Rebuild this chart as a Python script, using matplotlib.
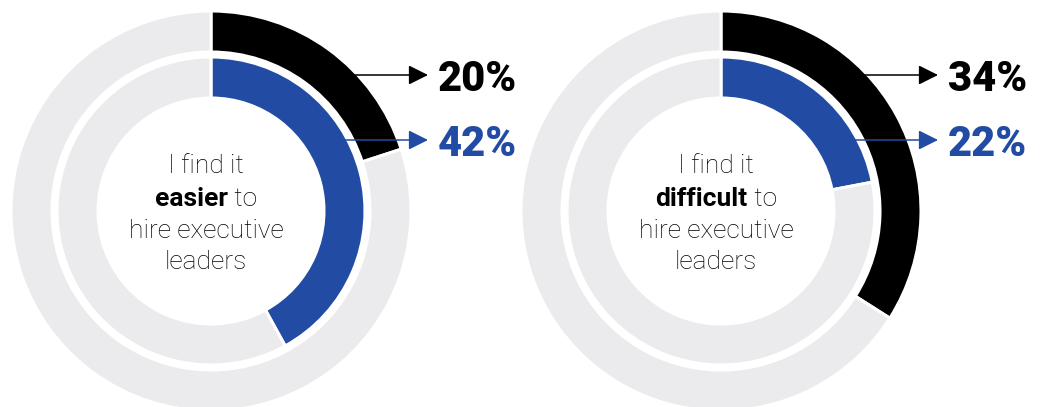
import matplotlib
matplotlib.use("Agg")
import matplotlib.pyplot as plt
import numpy as np

# --- данные ---
words = ["easier", "difficult"]       # выделенное слово в подписи
outer_vals = [20, 34]                 # внешнее кольцо (чёрное), %
inner_vals = [42, 22]                 # внутреннее кольцо (синее), %

BLACK = "#000000"
BLUE = "#224ba3"
GREY = "#ebebed"

plt.rcParams["font.family"] = ["Roboto", "DejaVu Sans"]

fig = plt.figure(figsize=(10.5, 4.07), dpi=100)
ax = fig.add_axes([0, 0, 1, 1])

centers = [(211, 196), (721, 196)]    # центры колец в пикселях
r_out, r_in, w = 200, 154, 41
arrow_y = [332, 267]                  # высоты стрелок (чёрная, синяя)

for (cx, cy), word, ov, iv in zip(centers, words, outer_vals, inner_vals):
    # кольца: значение + серый остаток
    ax.pie([ov, 100 - ov], colors=[BLACK, GREY], radius=r_out, center=(cx, cy),
           startangle=90, counterclock=False,
           wedgeprops=dict(width=w, edgecolor="white", linewidth=2.2))
    ax.pie([iv, 100 - iv], colors=[BLUE, GREY], radius=r_in, center=(cx, cy),
           startangle=90, counterclock=False,
           wedgeprops=dict(width=w, edgecolor="white", linewidth=2.2))

    # стрелки и проценты
    for val, col, y, r0 in [(ov, BLACK, arrow_y[0], 198), (iv, BLUE, arrow_y[1], 149)]:
        x0 = cx + np.sqrt(r0 ** 2 - (y - cy) ** 2)
        x1 = cx + 217
        ax.annotate("", xy=(x1, y), xytext=(x0, y),
                    arrowprops=dict(arrowstyle="-|>,head_length=0.4,head_width=0.2",
                                    color=col, lw=1.1, mutation_scale=30,
                                    shrinkA=0, shrinkB=0))
        ax.text(x1 + 10, y, f"{val}%", color=col, fontsize=30, fontweight=900,
                ha="left", va="center_baseline")

    # подпись в центре
    tx = cx - 5
    fs = 19
    ax.text(tx, 407 - 173, "I find it", fontsize=fs, fontweight="light",
            ha="center", va="baseline", color="black")
    t1 = ax.text(0, 407 - 206, word, fontsize=fs, fontweight="bold",
                 ha="left", va="baseline", color="black")
    t2 = ax.text(0, 407 - 206, "\u00a0to", fontsize=fs, fontweight="light",
                 ha="left", va="baseline", color="black")
    ax.text(tx, 407 - 238, "hire executive", fontsize=fs, fontweight="light",
            ha="center", va="baseline", color="black")
    ax.text(tx, 407 - 269, "leaders", fontsize=fs, fontweight="light",
            ha="center", va="baseline", color="black")

    ren = fig.canvas.get_renderer()
    w1 = t1.get_window_extent(ren).width
    w2 = t2.get_window_extent(ren).width
    left = tx - (w1 + w2) / 2
    t1.set_x(left)
    t2.set_x(left + w1)

ax.set_xlim(0, 1050)
ax.set_ylim(0, 407)
ax.set_aspect("equal")
ax.axis("off")

fig.savefig("out.png", dpi=100, facecolor="white")
